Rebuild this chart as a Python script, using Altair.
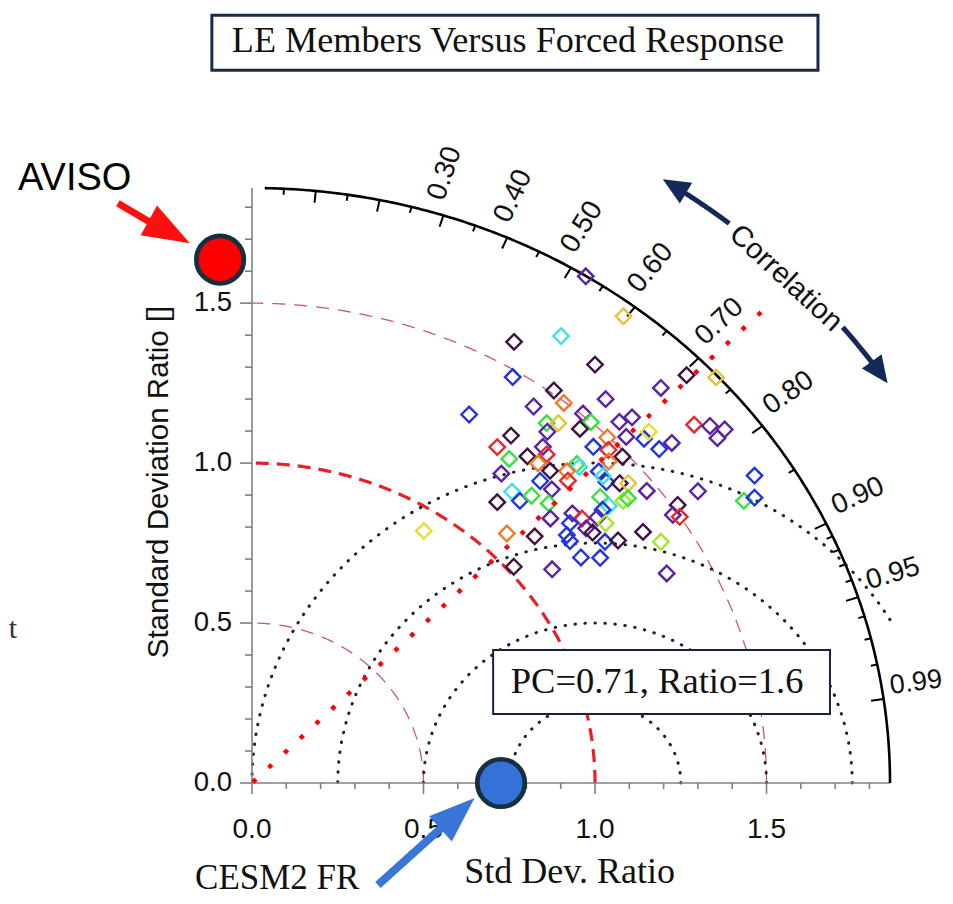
import math
import altair as alt
import pandas as pd

# ---------------- data ----------------
R_MAX = 1.86          # outer std-dev ratio of the diagram
PC = 0.71             # pattern correlation of the red dotted line
W, H = 638, 595       # plot area (pixels)

# LE members: Cartesian position in the Taylor plane (x = sd*corr, y = sd*sqrt(1-corr^2))
mem_x = [0.973, 1.083, 0.901, 0.764, 1.000, 0.760, 1.267, 1.353, 1.192, 0.880,
         0.909, 1.031, 0.633, 0.821, 0.859, 0.893, 0.965, 0.988, 0.956, 1.071,
         1.108, 1.289, 1.335, 1.378, 1.357, 0.861, 0.755, 0.715, 0.848, 0.750,
         0.803, 0.859, 0.834, 0.995, 1.036, 1.039, 1.091, 1.143, 1.157, 1.187,
         1.224, 1.080, 1.040, 0.947, 0.954, 0.918, 0.869, 0.727, 0.840, 0.874,
         0.921, 1.011, 1.033, 1.072, 1.097, 1.151, 1.300, 0.758, 0.781, 0.815,
         0.865, 0.715, 1.015, 1.040, 1.082, 1.096, 0.934, 0.962, 0.870, 1.007,
         1.022, 1.031, 1.241, 1.227, 1.247, 1.434, 1.465, 1.465, 0.927, 0.974,
         0.993, 0.918, 0.927, 0.824, 0.743, 0.501, 1.029, 1.067, 1.140, 1.192,
         0.959, 1.015, 0.763, 0.875, 1.209, 1.023]
mem_y = [1.584, 1.459, 1.397, 1.379, 1.308, 1.269, 1.275, 1.268, 1.235, 1.227,
         1.188, 1.200, 1.152, 1.177, 1.125, 1.125, 1.155, 1.128, 1.107, 1.129,
         1.143, 1.120, 1.116, 1.105, 1.078, 1.098, 1.086, 1.050, 1.051, 1.013,
         1.021, 1.027, 0.999, 1.051, 1.080, 1.041, 1.082, 1.076, 1.098, 1.044,
         1.063, 1.020, 1.005, 0.997, 0.988, 0.975, 0.976, 0.967, 0.944, 0.918,
         0.945, 0.974, 0.941, 0.937, 0.937, 0.913, 0.912, 0.911, 0.882, 0.898,
         0.874, 0.878, 0.894, 0.866, 0.882, 0.890, 0.843, 0.827, 0.827, 0.830,
         0.854, 0.812, 0.869, 0.838, 0.832, 0.882, 0.892, 0.961, 0.812, 0.796,
         0.783, 0.775, 0.756, 0.771, 0.780, 0.788, 0.754, 0.758, 0.785, 0.754,
         0.705, 0.704, 0.676, 0.668, 0.655, 0.959]
mem_grp = ["P", "GD", "C", "DP", "DP", "B", "DP", "GD", "P", "DP",
           "O", "P", "B", "P", "G", "GD", "P", "G", "DP", "P",
           "P", "R", "P", "P", "P", "P", "DP", "R", "P", "G",
           "DP", "R", "O", "B", "O", "R", "P", "B", "Y", "B",
           "P", "DP", "O", "G", "C", "O", "DP", "P", "B", "P",
           "R", "B", "B", "DP", "GD", "P", "P", "C", "B", "G",
           "G", "DP", "G", "C", "YG", "G", "P", "R", "P", "P",
           "B", "YG", "DP", "P", "R", "G", "B", "B", "B", "P",
           "DP", "B", "B", "DP", "O", "Y", "B", "DP", "DP", "YG",
           "B", "B", "DP", "P", "P", "C"]
grp_keys = ["DP", "P", "B", "C", "G", "YG", "Y", "GD", "O", "R"]
grp_cols = ["#3f1244", "#5b22a3", "#2233e0", "#40e0e6", "#3ce042",
            "#a4e62c", "#e6e030", "#e8c23a", "#ef7a2c", "#e42a2e"]

corr_major = [0.1, 0.2, 0.3, 0.4, 0.5, 0.6, 0.7, 0.8, 0.9, 0.95, 0.99]
corr_minor = [0.05, 0.15, 0.25, 0.35, 0.45, 0.55, 0.65, 0.75, 0.85,
              0.91, 0.92, 0.93, 0.94, 0.96, 0.97, 0.98]
corr_label_vals = [0.30, 0.40, 0.50, 0.60, 0.70, 0.80, 0.90, 0.95]
corr_label_txt = ["0.30", "0.40", "0.50", "0.60", "0.70", "0.80", "0.90", "0.95"]
corr_edge_val, corr_edge_txt = 0.99, "0.99"   # last label sits at the page edge

sd_minor = [0.1, 0.2, 0.3, 0.4, 0.6, 0.7, 0.8, 0.9, 1.1, 1.2, 1.3, 1.4, 1.6, 1.7, 1.8]
sd_major = [0.0, 0.5, 1.0, 1.5]
sd_major_txt = ["0.0", "0.5", "1.0", "1.5"]

sd_ref_thin = [0.5, 1.5]      # thin rosy dashed arcs
sd_ref_thick = [1.0]          # thick red dashed arc
rmsd_radii = [0.25, 0.5, 0.75, 1.0]   # dotted centred-RMS arcs around (1, 0)

# annotations (data units)
aviso_pt = (-0.093, 1.636)
cesm_pt = (0.726, 0.0)
aviso_arrow = ((-0.391, 1.8125), (-0.303, 1.753), (-0.181, 1.6875))  # tail, head base, tip
cesm_arrow = ((0.367, -0.319), (0.548, -0.144), (0.649, -0.047))
corr_arrow_r = 2.235
corr_arrow_tips = (57.6, 34.0)
corr_arrow_gap = (51.5, 39.6)

KX, KY = W / R_MAX, H / R_MAX

# ---------------- helpers ----------------
xs = alt.Scale(domain=[0, R_MAX], nice=False, zero=False)
ys = alt.Scale(domain=[0, R_MAX], nice=False, zero=False)


def X(f="x"):
    return alt.X(f, type="quantitative", scale=xs, axis=None)


def Y(f="y"):
    return alt.Y(f, type="quantitative", scale=ys, axis=None)


def lin(a, b, n):
    return [a + (b - a) * i / (n - 1) for i in range(n)]


def polar_arcs(radii, t0=0.0, t1=math.pi / 2, n=240):
    rows = []
    for k, r in enumerate(radii):
        for i, t in enumerate(lin(t0, t1, n)):
            rows.append(dict(x=r * math.cos(t), y=r * math.sin(t), arc=k, o=i))
    return pd.DataFrame(rows)


def bearing(dxp, dyp):
    return math.degrees(math.atan2(dxp, -dyp)) % 360


# ---------------- reference arcs ----------------
thin_df = polar_arcs(sd_ref_thin)
thick_df = polar_arcs(sd_ref_thick)
rm_rows = []
for k, rr in enumerate(rmsd_radii):
    t0 = math.acos((R_MAX - 1) / rr) if 1 + rr > R_MAX else 0.0
    for i, t in enumerate(lin(t0, math.pi, 300)):
        rm_rows.append(dict(x=1 + rr * math.cos(t), y=rr * math.sin(t), arc=k, o=i))
rm_df = pd.DataFrame(rm_rows)

thin = alt.Chart(thin_df).mark_line(color="#c85a66", strokeWidth=1.3, strokeDash=[13, 9]).encode(
    x=X(), y=Y(), detail="arc:N", order="o:Q")
thick = alt.Chart(thick_df).mark_line(color="#e8202a", strokeWidth=3.2, strokeDash=[13, 8]).encode(
    x=X(), y=Y(), detail="arc:N", order="o:Q")
dotted = alt.Chart(rm_df).mark_line(color="#222222", strokeWidth=3.0, strokeDash=[0.5, 9.5],
                                    strokeCap="round").encode(
    x=X(), y=Y(), detail="arc:N", order="o:Q")

# ---------------- outer arc & ticks ----------------
outer_df = polar_arcs([R_MAX], t0=0.0, t1=math.acos(0.02), n=300)
outer = alt.Chart(outer_df).mark_line(color="black", strokeWidth=2.6).encode(
    x=X(), y=Y(), detail="arc:N", order="o:Q")


def arc_ticks(vals, L):
    rows = []
    for c in vals:
        s = math.sqrt(1 - c * c)
        rows.append(dict(x=R_MAX * c, y=R_MAX * s, x2=(R_MAX - L) * c, y2=(R_MAX - L) * s))
    return pd.DataFrame(rows)


otick_major = alt.Chart(arc_ticks(corr_major, 0.037)).mark_rule(color="black", strokeWidth=2).encode(
    x=X(), y=Y(), x2="x2:Q", y2="y2:Q")
otick_minor = alt.Chart(arc_ticks(corr_minor, 0.019)).mark_rule(color="black", strokeWidth=2).encode(
    x=X(), y=Y(), x2="x2:Q", y2="y2:Q")


def corr_label_df(vals, txts):
    rows = []
    for v, t in zip(vals, txts):
        th = math.acos(v)
        ang = math.degrees(math.atan2(-KY * math.sin(th), KX * math.cos(th))) % 360
        rows.append(dict(x=R_MAX * v, y=R_MAX * math.sin(th), t=t, ang=ang))
    return pd.DataFrame(rows)


corr_labels = alt.Chart(corr_label_df(corr_label_vals, corr_label_txt)).mark_text(
    align="left", baseline="middle", dx=13, dy=-12, fontSize=28, font="Liberation Sans",
    color="#111111").encode(x=X(), y=Y(), text="t:N", angle=alt.Angle("ang:Q", scale=None))
corr_label_edge = alt.Chart(corr_label_df([corr_edge_val], [corr_edge_txt])).mark_text(
    align="left", baseline="middle", dx=8, dy=-12, fontSize=27, font="Liberation Sans",
    color="#111111").encode(x=X(), y=Y(), text="t:N", angle=alt.Angle("ang:Q", scale=None))

# ---------------- straight axes ----------------
AX = "#808080"
axes_df = pd.DataFrame([dict(x=0, y=0, x2=0, y2=R_MAX), dict(x=0, y=0, x2=R_MAX, y2=0)])
axes = alt.Chart(axes_df).mark_rule(color=AX, strokeWidth=1.6).encode(
    x=X(), y=Y(), x2="x2:Q", y2="y2:Q")
mn = pd.DataFrame(dict(v=sd_minor))
mj = pd.DataFrame(dict(v=sd_major, t=sd_major_txt))
ytick_mn = alt.Chart(mn).mark_rule(color=AX, strokeWidth=1.6).encode(
    y=Y("v"), x=alt.value(-7), x2=alt.value(0))
ytick_mj = alt.Chart(mj).mark_rule(color=AX, strokeWidth=1.6).encode(
    y=Y("v"), x=alt.value(-12), x2=alt.value(0))
xtick_mn = alt.Chart(mn).mark_rule(color=AX, strokeWidth=1.6).encode(
    x=X("v"), y=alt.value(H), y2=alt.value(H + 6))
xtick_mj = alt.Chart(mj).mark_rule(color=AX, strokeWidth=1.6).encode(
    x=X("v"), y=alt.value(H), y2=alt.value(H + 11))
ylab = alt.Chart(mj).mark_text(align="right", baseline="middle", fontSize=27.5,
                               font="Liberation Sans", color="#111111").encode(
    y=Y("v"), x=alt.value(-20), text="t:N")
xlab = alt.Chart(mj).mark_text(align="center", baseline="alphabetic", fontSize=28,
                               font="Liberation Sans", color="#111111").encode(
    x=X("v"), y=alt.value(H + 55), text="t:N")

ytitle = alt.Chart(pd.DataFrame([dict(x=-0.271, y=0.941, t="Standard Deviation Ratio []")])).mark_text(
    angle=270, align="center", baseline="middle", fontSize=29.5, font="Liberation Sans",
    color="#111111").encode(x=X(), y=Y(), text="t:N")

# ---------------- members & PC line ----------------
mem_df = pd.DataFrame(dict(x=mem_x, y=mem_y, g=mem_grp))
members = alt.Chart(mem_df).mark_point(shape="diamond", filled=False, size=240, strokeWidth=2.4,
                                       opacity=1).encode(
    x=X(), y=Y(), color=alt.Color("g:N", scale=alt.Scale(domain=grp_keys, range=grp_cols), legend=None))

th_pc = math.acos(PC)
pc_r = [0.01 + 0.0648 * k for k in range(33)]
pc_df = pd.DataFrame(dict(x=[r * PC for r in pc_r], y=[r * math.sin(th_pc) for r in pc_r]))
pc_dots = alt.Chart(pc_df).mark_point(shape="diamond", filled=True, size=40, color="#ff0000",
                                      opacity=1).encode(x=X(), y=Y())

# ---------------- boxes & texts ----------------
title_box = alt.Chart(pd.DataFrame([dict(x=-0.117, x2=1.650, y=2.400, y2=2.228)])).mark_rect(
    fill="white", stroke="#1b2a48", strokeWidth=3).encode(x=X(), x2="x2:Q", y=Y(), y2="y2:Q")
pc_box = alt.Chart(pd.DataFrame([dict(x=0.703, x2=1.685, y=0.416, y2=0.216)])).mark_rect(
    fill="white", stroke="#16233c", strokeWidth=2).encode(x=X(), x2="x2:Q", y=Y(), y2="y2:Q")

serif_txt = pd.DataFrame([
    dict(x=0.746, y=2.284, t="LE Members Versus Forced Response", s=36.2),
    dict(x=1.181, y=0.281, t="PC=0.71, Ratio=1.6", s=36.5),
    dict(x=0.926, y=-0.3125, t="Std Dev. Ratio", s=36),
])
serif_c = alt.Chart(serif_txt).mark_text(baseline="alphabetic", align="center", font="Liberation Serif",
                                         color="#111111").encode(
    x=X(), y=Y(), text="t:N", size=alt.Size("s:Q", scale=None))
cesm_txt = alt.Chart(pd.DataFrame([dict(x=-0.166, y=-0.331, t="CESM2 FR")])).mark_text(
    baseline="alphabetic", align="left", font="Liberation Serif", fontSize=35, color="#111111").encode(
    x=X(), y=Y(), text="t:N")
aviso_txt = alt.Chart(pd.DataFrame([dict(x=-0.682, y=1.853, t="AVISO")])).mark_text(
    baseline="alphabetic", align="left", font="Liberation Sans", fontSize=38, color="#000000").encode(
    x=X(), y=Y(), text="t:N")
edge_t = alt.Chart(pd.DataFrame([dict(x=-0.709, y=0.453, t="t")])).mark_text(
    baseline="alphabetic", align="left", font="Liberation Serif", fontSize=30, color="#333333").encode(
    x=X(), y=Y(), text="t:N")

# ---------------- arrows ----------------


def straight_arrow(tail, base, tip, color, width, headpath, headsize):
    end = (base[0] + 0.3 * (tip[0] - base[0]), base[1] + 0.3 * (tip[1] - base[1]))
    shaft = alt.Chart(pd.DataFrame([dict(x=tail[0], y=tail[1], x2=end[0], y2=end[1])])).mark_rule(
        color=color, strokeWidth=width, strokeCap="butt").encode(x=X(), y=Y(), x2="x2:Q", y2="y2:Q")
    ang = bearing(KX * (tip[0] - tail[0]), -KY * (tip[1] - tail[1]))
    head = alt.Chart(pd.DataFrame([dict(x=tip[0], y=tip[1])])).mark_point(
        shape=headpath, filled=True, size=headsize, color=color, opacity=1, angle=ang,
        strokeWidth=0).encode(x=X(), y=Y())
    return shaft + head


red_arrow = straight_arrow(*aviso_arrow, "#ff1010", 7, "M0,0L0.36,1L-0.36,1Z", 8836)
blue_arrow = straight_arrow(*cesm_arrow, "#3a76d8", 8, "M0,0L0.37,1L-0.37,1Z", 8464)

NAVY = "#13295a"
ca_rows = []
segs = [(corr_arrow_tips[0] - 1.6, corr_arrow_gap[0]), (corr_arrow_gap[1], corr_arrow_tips[1] + 1.6)]
for k, (a0, a1) in enumerate(segs):
    for i, d in enumerate(lin(a0, a1, 40)):
        t = math.radians(d)
        ca_rows.append(dict(x=corr_arrow_r * math.cos(t), y=corr_arrow_r * math.sin(t), arc=k, o=i))
corr_arrow_line = alt.Chart(pd.DataFrame(ca_rows)).mark_line(color=NAVY, strokeWidth=5).encode(
    x=X(), y=Y(), detail="arc:N", order="o:Q")
t1, t2 = math.radians(corr_arrow_tips[0]), math.radians(corr_arrow_tips[1])
heads = pd.DataFrame([
    dict(x=corr_arrow_r * math.cos(t1), y=corr_arrow_r * math.sin(t1),
         ang=bearing(-KX * math.sin(t1), -KY * math.cos(t1))),
    dict(x=corr_arrow_r * math.cos(t2), y=corr_arrow_r * math.sin(t2),
         ang=bearing(KX * math.sin(t2), KY * math.cos(t2))),
])
corr_heads = alt.Chart(heads).mark_point(shape="M0,0L0.45,1L-0.45,1Z", filled=True, size=2916,
                                         color=NAVY, opacity=1, strokeWidth=0).encode(
    x=X(), y=Y(), angle=alt.Angle("ang:Q", scale=None))
tm = math.radians(45.4)
corr_word = alt.Chart(pd.DataFrame([dict(x=corr_arrow_r * 0.992 * math.cos(tm),
                                         y=corr_arrow_r * 0.992 * math.sin(tm),
                                         t="Correlation")])).mark_text(
    align="center", baseline="middle", fontSize=29, font="Liberation Sans", color="#111111",
    angle=round(math.degrees(math.atan2(KY * math.cos(tm), KX * math.sin(tm))), 1)).encode(
    x=X(), y=Y(), text="t:N")

# ---------------- obs / FR circles ----------------
circ = pd.DataFrame([dict(x=aviso_pt[0], y=aviso_pt[1], c="#ff0000"),
                     dict(x=cesm_pt[0], y=cesm_pt[1], c="#3572d8")])
circles = alt.Chart(circ).mark_point(shape="circle", filled=True, size=2256, opacity=1,
                                     stroke="#15303f", strokeWidth=4.7).encode(
    x=X(), y=Y(), fill=alt.Fill("c:N", scale=None))

chart = alt.layer(
    thin, thick, dotted,
    axes, ytick_mn, ytick_mj, xtick_mn, xtick_mj,
    outer, otick_major, otick_minor,
    members, pc_dots,
    pc_box, title_box,
    ylab, xlab, ytitle, corr_labels, corr_label_edge,
    serif_c, cesm_txt, aviso_txt, edge_t,
    corr_arrow_line, corr_heads, corr_word,
    circles, red_arrow, blue_arrow,
).properties(
    width=W, height=H,
    padding={"left": 244, "top": 180, "right": 55, "bottom": 113},
    autosize=alt.AutoSizeParams(type="none"),
    background="white",
).configure_view(stroke=None)

chart.save("out.html", embed_options={"renderer": "svg", "actions": False})
